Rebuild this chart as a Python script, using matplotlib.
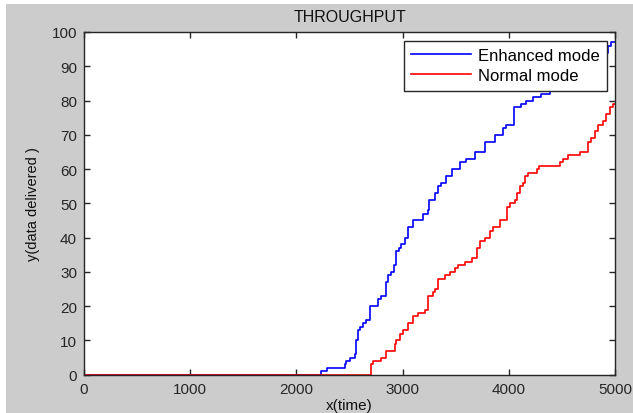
import matplotlib
matplotlib.use("Agg")
import matplotlib.pyplot as plt
from matplotlib.patches import Rectangle

# step points (time, cumulative data delivered)
enhanced_x = [0, 2230, 2290, 2455, 2470, 2500, 2550, 2560, 2580, 2596, 2627,
              2658, 2696, 2768, 2800, 2841, 2860, 2894, 2916, 2935, 2966,
              2988, 3019, 3051, 3098, 3192, 3239, 3248, 3302, 3333, 3365,
              3406, 3468, 3537, 3594, 3679, 3773, 3867, 3945, 3976, 4049,
              4118, 4165, 4228, 4306, 4385, 4450, 4550, 4650, 4750, 4850,
              4934, 4966, 5000]
enhanced_y = [0, 1, 2, 3, 4, 5, 6, 10, 13, 14, 15,
              16, 20, 22, 23, 27, 29, 30, 32, 36, 37,
              38, 40, 43, 45, 47, 48, 51, 53, 55, 56,
              58, 60, 62, 63, 65, 68, 70, 72, 73, 78,
              79, 80, 81, 82, 83, 85, 87, 90, 92, 94,
              96, 97, 97]

normal_x = [0, 2705, 2721, 2800, 2841, 2925, 2941, 2973, 3004, 3051, 3098,
            3145, 3208, 3239, 3286, 3302, 3333, 3396, 3443, 3490, 3522,
            3584, 3650, 3697, 3729, 3776, 3823, 3848, 3917, 3980, 4011,
            4058, 4074, 4105, 4130, 4152, 4184, 4262, 4287, 4482, 4513,
            4560, 4667, 4746, 4777, 4808, 4840, 4887, 4918, 4950, 4981, 5000]
normal_y = [0, 3, 4, 5, 7, 9, 10, 12, 13, 15, 17,
            18, 19, 23, 24, 25, 28, 29, 30, 31, 32,
            33, 34, 37, 39, 40, 42, 43, 45, 49, 50,
            51, 53, 55, 56, 58, 59, 60, 61, 62, 63,
            64, 65, 68, 69, 71, 73, 74, 76, 78, 79, 79]

x_ticks = [0, 1000, 2000, 3000, 4000, 5000]
y_ticks = list(range(0, 101, 10))

plt.rcParams["font.family"] = ["Liberation Sans", "DejaVu Sans"]

W, H = 633, 414
fig = plt.figure(figsize=(W / 100, H / 100), dpi=100, facecolor="#cccccc")

# screenshot has a thin white border on top and left
fig.patches.append(Rectangle((0, 1 - 5 / H), 1, 5 / H, transform=fig.transFigure,
                             facecolor="white", edgecolor="none", zorder=-1))
fig.patches.append(Rectangle((0, 0), 6 / W, 1, transform=fig.transFigure,
                             facecolor="white", edgecolor="none", zorder=-1))

ax = fig.add_axes([84 / W, (H - 375.7) / H, (615 - 84) / W, (375.7 - 33) / H])
ax.set_facecolor("white")

ax.step(enhanced_x, enhanced_y, where="post", color="#0000ff", lw=1.2,
        label="Enhanced mode")
ax.step(normal_x, normal_y, where="post", color="#ff0000", lw=1.2,
        label="Normal mode")

ax.set_xlim(0, 5000)
ax.set_ylim(0, 100)
ax.set_xticks(x_ticks)
ax.set_yticks(y_ticks)
ax.tick_params(direction="in", length=4, width=1, top=True, right=True,
               labelsize=11, colors="#262626", pad=5)
for s in ax.spines.values():
    s.set_color("#262626")
    s.set_linewidth(1)

ax.set_title("THROUGHPUT", fontsize=11.5, color="#111111", pad=8)
ax.set_xlabel("x(time)", fontsize=11, color="#111111", labelpad=2)
ax.set_ylabel("y(data delivered )", fontsize=10.5, color="#111111", labelpad=8)

leg = ax.legend(loc="upper right", bbox_to_anchor=(607 / W, 1 - 41.7 / H),
                bbox_transform=fig.transFigure, fontsize=12, fancybox=False,
                framealpha=1, edgecolor="#262626", handlelength=3.6,
                handletextpad=0.4, borderaxespad=0, borderpad=0.45,
                labelspacing=0.3)
leg.get_frame().set_linewidth(1)

fig.savefig("out.png", dpi=100, facecolor=fig.get_facecolor())
